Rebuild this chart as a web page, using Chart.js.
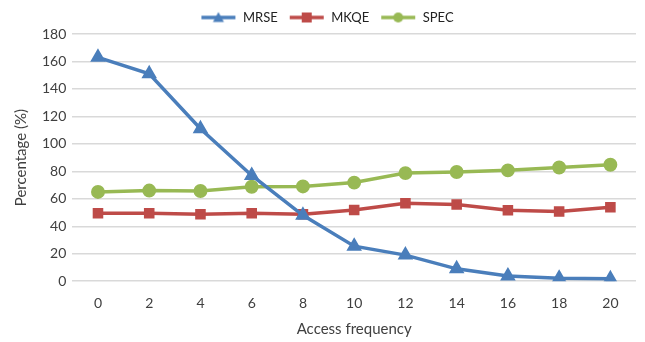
<!DOCTYPE html>
<html>
<head>
<meta charset="utf-8">
<script src="https://cdn.jsdelivr.net/npm/chart.js@4/dist/chart.umd.min.js"></script>
<style>
html,body{margin:0;padding:0;background:#fff;}
#wrap{width:645px;height:342px;}
</style>
</head>
<body>
<div id="wrap"><canvas id="c" width="645" height="342"></canvas></div>
<script>
const categories = ['0','2','4','6','8','10','12','14','16','18','20'];
const mrse = [163, 151, 111, 77, 48, 25.5, 19, 9, 3.8, 2.2, 1.7];
const mkqe = [49.5, 49.5, 48.7, 49.5, 48.7, 51.8, 56.8, 55.8, 51.7, 50.7, 53.8];
const spec = [65, 66, 65.7, 68.8, 69, 71.8, 78.7, 79.5, 80.7, 82.8, 84.8];
const yTicks = [0,20,40,60,80,100,120,140,160,180];

const FONT = "Lato, 'Open Sans', sans-serif";
const TXT = '#404040';

function legendIcon(color, style){
  const c = document.createElement('canvas');
  c.width = 36; c.height = 14;
  const g = c.getContext('2d');
  g.strokeStyle = color; g.fillStyle = color; g.lineWidth = 3.5;
  g.beginPath(); g.moveTo(1,7); g.lineTo(35,7); g.stroke();
  g.beginPath();
  if(style==='triangle'){ g.moveTo(18,1.5); g.lineTo(23.5,11.5); g.lineTo(12.5,11.5); g.closePath(); }
  else if(style==='rect'){ g.rect(13,2,10,10); }
  else { g.arc(18,7,5,0,Math.PI*2); }
  g.fill();
  return c;
}

const series = [
  {label:'MRSE', data:mrse, color:'#4A7EBB', style:'triangle', r:5.5},
  {label:'MKQE', data:mkqe, color:'#BE4B48', style:'rect', r:5},
  {label:'SPEC', data:spec, color:'#98B954', style:'circle', r:5.2}
];

new Chart(document.getElementById('c'), {
  type:'line',
  data:{
    labels:categories,
    datasets:series.map(s=>({
      label:s.label, data:s.data, borderColor:s.color, backgroundColor:s.color,
      borderWidth:3.5, pointStyle:s.style, pointRadius:s.r, pointHoverRadius:s.r,
      pointBackgroundColor:s.color, pointBorderColor:s.color, tension:0, fill:false,
      _icon:legendIcon(s.color, s.style)
    }))
  },
  options:{
    responsive:false, animation:false, devicePixelRatio:1,
    layout:{padding:{left:12,right:3,top:0,bottom:4}},
    plugins:{
      tooltip:{enabled:false},
      legend:{
        position:'top',
        labels:{
          usePointStyle:true, pointStyleWidth:36, boxHeight:14,
          padding:11, color:'#222', font:{family:FONT,size:13},
          generateLabels(chart){
            return chart.data.datasets.map((d,i)=>({
              text:d.label, pointStyle:d._icon, fillStyle:d.borderColor,
              strokeStyle:d.borderColor, lineWidth:0, hidden:false, datasetIndex:i, fontColor:'#222'
            }));
          }
        }
      }
    },
    scales:{
      x:{
        type:'category', offset:true,
        grid:{display:false}, border:{display:false},
        ticks:{color:TXT, font:{family:FONT,size:14}, padding:6},
        title:{display:true, text:'Access frequency', color:TXT, font:{family:FONT,size:15}, padding:{top:2,bottom:0}}
      },
      y:{
        min:0, max:180,
        afterBuildTicks(axis){ axis.ticks = yTicks.map(v=>({value:v})); },
        grid:{color:'#d9d9d9', lineWidth:1.5, drawTicks:false},
        border:{display:false},
        ticks:{color:TXT, font:{family:FONT,size:14}, padding:6},
        title:{display:true, text:'Percentage (%)', color:TXT, font:{family:FONT,size:15}, padding:{top:0,bottom:6}}
      }
    }
  }
});
</script>
</body>
</html>
